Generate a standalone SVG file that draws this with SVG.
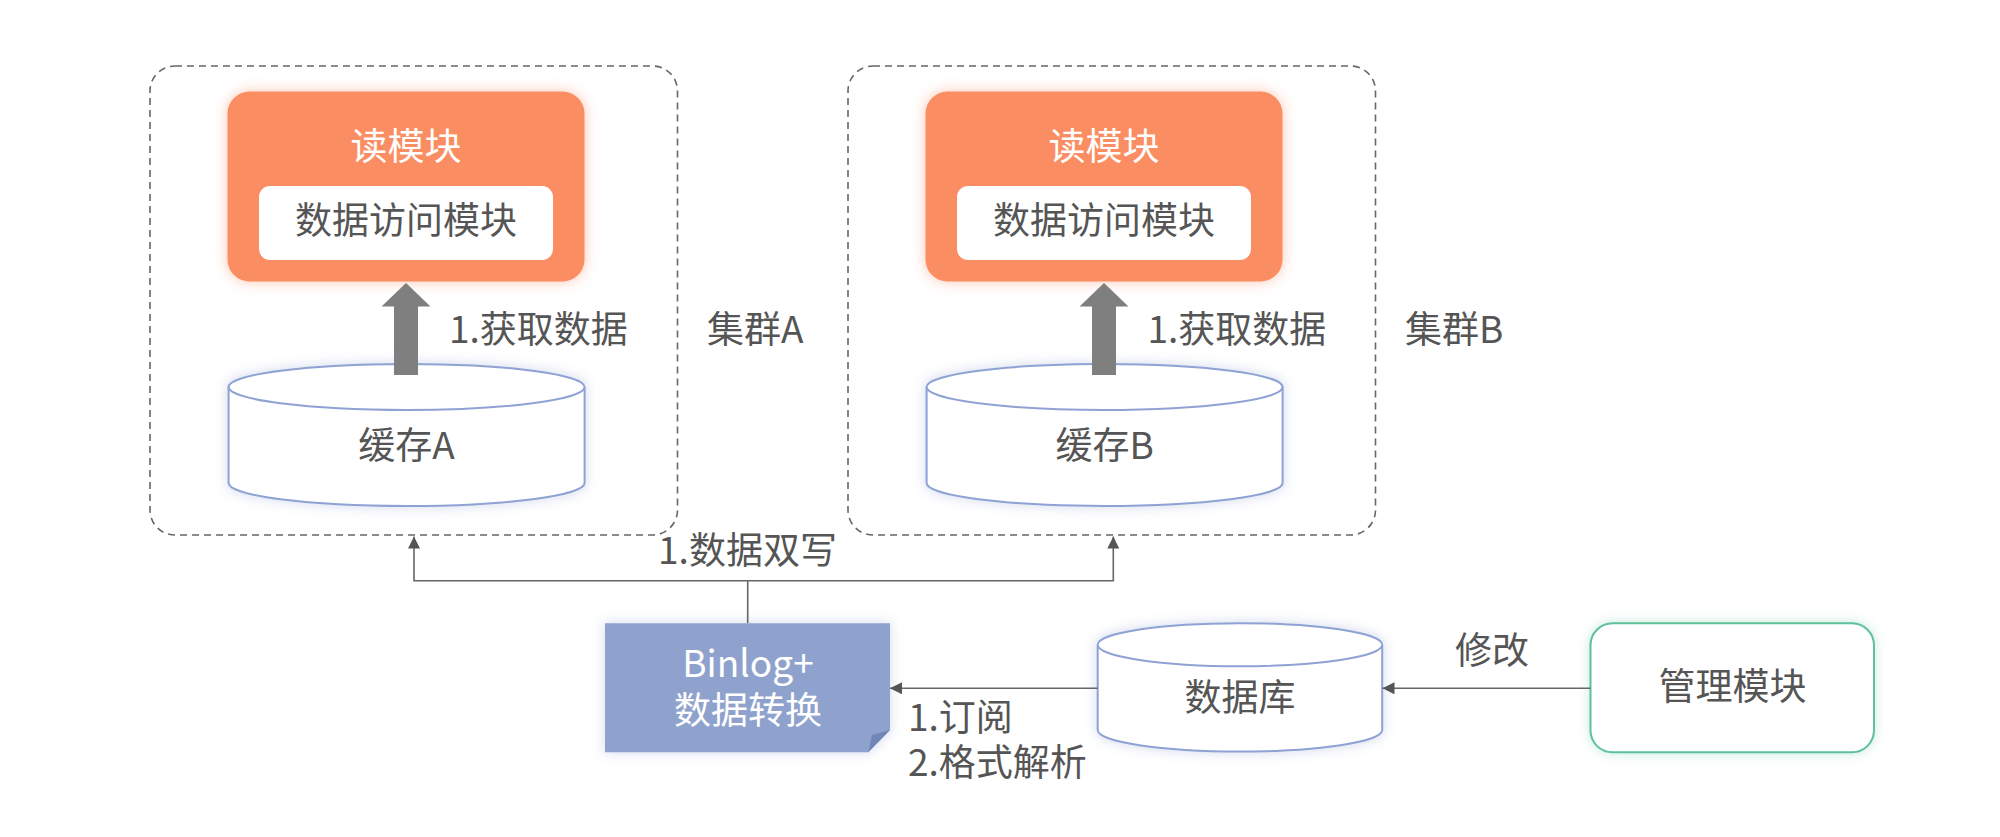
<svg xmlns="http://www.w3.org/2000/svg" width="2000" height="837" viewBox="0 0 2000 837">
<defs>
<style>
.t{font-family:"Noto Sans CJK SC","Noto Sans",sans-serif;font-size:37px;fill:#555555}
.w{fill:#ffffff}
.c{text-anchor:middle}
.dash{fill:none;stroke:#666666;stroke-width:1.6;stroke-dasharray:7 5}
.orange{fill:#FB8D62}
.inner{fill:#ffffff}
.cyl{fill:#ffffff;stroke:#8FA2D4;stroke-width:2}
.conn{fill:none;stroke:#666666;stroke-width:1.6}
.big{fill:#7F7F7F}
</style>
<marker id="ah" viewBox="0 0 12 12" refX="12" refY="6" markerWidth="12" markerHeight="12" markerUnits="userSpaceOnUse" orient="auto">
<path d="M0,0 L12,6 L0,12 Z" fill="#555555"/>
</marker>
<filter id="glowO" x="-20%" y="-20%" width="140%" height="140%">
<feFlood flood-color="#FB8D62" flood-opacity="0.5"/>
<feComposite operator="in" in2="SourceAlpha"/>
<feGaussianBlur stdDeviation="7"/>
<feMerge><feMergeNode/><feMergeNode in="SourceGraphic"/></feMerge>
</filter>
<filter id="glowB" x="-20%" y="-30%" width="140%" height="160%">
<feMorphology in="SourceAlpha" operator="dilate" radius="1" result="a"/>
<feFlood flood-color="#8FA2D4" flood-opacity="0.35"/>
<feComposite operator="in" in2="a"/>
<feGaussianBlur stdDeviation="6"/>
<feMerge><feMergeNode/><feMergeNode in="SourceGraphic"/></feMerge>
</filter>
<filter id="glowG" x="-20%" y="-30%" width="140%" height="160%">
<feFlood flood-color="#5DC19A" flood-opacity="0.35"/>
<feComposite operator="in" in2="SourceAlpha"/>
<feGaussianBlur stdDeviation="6"/>
<feMerge><feMergeNode/><feMergeNode in="SourceGraphic"/></feMerge>
</filter>
<linearGradient id="gh" x1="0" y1="0" x2="1" y2="0">
<stop offset="0" stop-color="#5DC19A" stop-opacity="0.35"/>
<stop offset="1" stop-color="#5DC19A" stop-opacity="0"/>
</linearGradient>
<linearGradient id="gv" x1="0" y1="0" x2="0" y2="1">
<stop offset="0" stop-color="#5DC19A" stop-opacity="0.4"/>
<stop offset="1" stop-color="#5DC19A" stop-opacity="0"/>
</linearGradient>
</defs>
<rect width="2000" height="837" fill="#ffffff"/>

<g id="clusterA">
<rect class="dash" x="150" y="66" width="527.5" height="469" rx="25"/>
<text class="t" x="707" y="342.5">集群A</text>
</g>
<g id="clusterB">
<rect class="dash" x="848" y="66" width="527.5" height="469" rx="25"/>
<text class="t" x="1405" y="342.5">集群B</text>
</g>

<g id="readA">
<rect class="orange" x="227.5" y="91.5" width="357" height="190" rx="22" filter="url(#glowO)"/>
<text class="t w c" x="406" y="160">读模块</text>
<rect class="inner" x="259" y="186" width="294" height="74" rx="11"/>
<text class="t c" x="406" y="234">数据访问模块</text>
</g>
<g id="readB">
<rect class="orange" x="925.5" y="91.5" width="357" height="190" rx="22" filter="url(#glowO)"/>
<text class="t w c" x="1104" y="160">读模块</text>
<rect class="inner" x="957" y="186" width="294" height="74" rx="11"/>
<text class="t c" x="1104" y="234">数据访问模块</text>
</g>

<g id="cacheA">
<path class="cyl" filter="url(#glowB)" d="M228.6,387 A178,23 0 0 1 584.6,387 V483 A178,23 0 0 1 228.6,483 Z"/>
<path class="cyl" d="M228.6,387 A178,23 0 0 0 584.6,387"/>
<text class="t c" x="406.6" y="459">缓存A</text>
</g>
<g id="cacheB">
<path class="cyl" filter="url(#glowB)" d="M926.6,387 A178,23 0 0 1 1282.6,387 V483 A178,23 0 0 1 926.6,483 Z"/>
<path class="cyl" d="M926.6,387 A178,23 0 0 0 1282.6,387"/>
<text class="t c" x="1104.6" y="459">缓存B</text>
</g>

<g id="binlog">
<path d="M605,623.3 H890 V730 L868.3,752.3 H605 Z" fill="#8FA2CD" filter="url(#glowB)"/>
<path d="M890,730 L868.3,752.3 L872,735 Z" fill="#7186B8"/>
<text class="t w c" x="748" y="676.5">Binlog+</text>
<text class="t w c" x="748" y="724">数据转换</text>
</g>

<g id="database">
<path class="cyl" filter="url(#glowB)" d="M1097.7,644.7 A142.25,21.5 0 0 1 1382.2,644.7 V730 A142.25,21.5 0 0 1 1097.7,730 Z"/>
<path class="cyl" d="M1097.7,644.7 A142.25,21.5 0 0 0 1382.2,644.7"/>
<text class="t c" x="1240" y="710.5">数据库</text>
</g>

<g id="admin">
<line x1="1685" y1="752" x2="1995" y2="752" stroke="url(#gh)" stroke-width="3"/>
<line x1="1873.5" y1="710" x2="1873.5" y2="835" stroke="url(#gv)" stroke-width="3"/>
<rect x="1590.5" y="623.3" width="283.5" height="129" rx="22" fill="#ffffff" stroke="#5DC19A" stroke-width="2" filter="url(#glowG)"/>
<text class="t c" x="1732.5" y="700">管理模块</text>
</g>

<g id="connectors">
<polygon class="big" points="406,283 430.5,306.5 418,306.5 418,375 394,375 394,306.5 381.5,306.5"/>
<polygon class="big" points="1104,283 1128.5,306.5 1116,306.5 1116,375 1092,375 1092,306.5 1079.5,306.5"/>
<path class="conn" d="M747.7,623 V580.7 H414 V536.5" marker-end="url(#ah)"/>
<path class="conn" d="M747.7,580.7 H1113.3 V536.5" marker-end="url(#ah)"/>
<path class="conn" d="M1097.7,688.3 H890" marker-end="url(#ah)"/>
<path class="conn" d="M1590.5,688.3 H1382.5" marker-end="url(#ah)"/>
<text class="t" x="449" y="343">1.获取数据</text>
<text class="t" x="1147.5" y="343">1.获取数据</text>
<text class="t c" x="747.5" y="564">1.数据双写</text>
<text class="t" x="908" y="731">1.订阅</text>
<text class="t" x="908" y="776">2.格式解析</text>
<text class="t c" x="1492" y="663.5">修改</text>
</g>
</svg>
